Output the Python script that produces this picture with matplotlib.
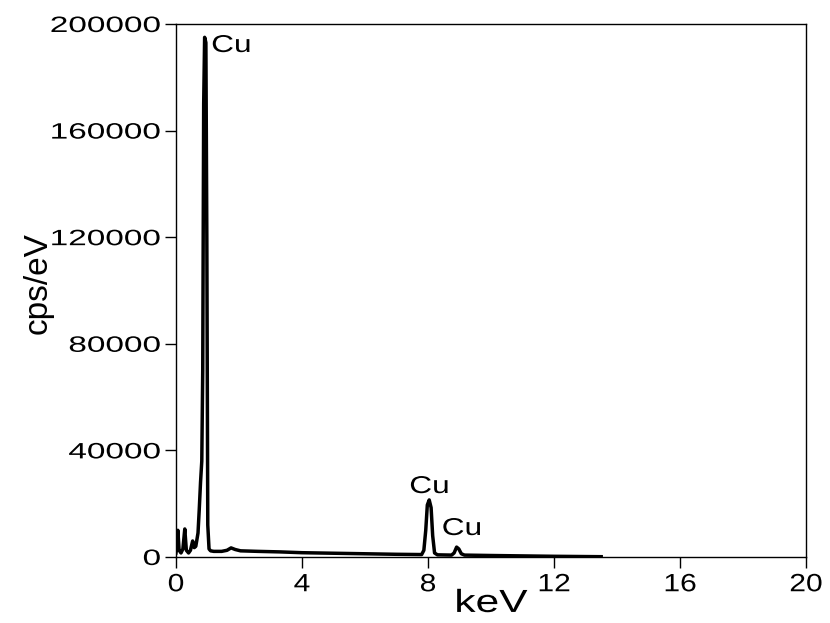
import matplotlib
import matplotlib.pyplot as plt
from matplotlib.patheffects import AbstractPathEffect
from matplotlib.transforms import Affine2D

matplotlib.use("Agg")
plt.rcParams["font.family"] = ["Liberation Sans", "DejaVu Sans"]

# EDS spectrum, counts per eV against energy
energy = [0.00, 0.02, 0.06, 0.10, 0.16, 0.22, 0.28, 0.33, 0.40, 0.46,
          0.53, 0.58, 0.63, 0.70, 0.74, 0.78, 0.82, 0.85, 0.88, 0.91,
          0.95, 0.98, 1.01, 1.05, 1.10, 1.20, 1.45, 1.62, 1.75, 1.88,
          2.05, 2.6, 3.3, 4.0, 5.0, 6.0, 7.0, 7.80, 7.87, 7.93,
          7.98, 8.04, 8.10, 8.15, 8.21, 8.30, 8.75, 8.83, 8.91, 8.98,
          9.06, 9.16, 10.0, 11.0, 12.0, 13.5]
cps = [1500, 3000, 10000, 2500, 1500, 3000, 10500, 2500, 1500, 2500,
       6000, 3500, 4000, 9000, 18000, 28000, 36000, 70000, 170000, 195000,
       193000, 120000, 12000, 3000, 2300, 2100, 2100, 2500, 3400, 2800,
       2300, 2100, 1900, 1600, 1400, 1200, 1000, 900, 2500, 10000,
       19500, 21400, 18500, 8000, 1500, 800, 700, 1500, 3700, 3000,
       1200, 700, 550, 400, 250, 100]

# line identifications
peak_names = ["Cu", "Cu", "Cu"]
peak_x = [1.75, 8.04, 9.07]
peak_y = [189500, 24000, 8250]

xticks = [0, 4, 8, 12, 16, 20]
yticks = [0, 40000, 80000, 120000, 160000, 200000]


class Widen(AbstractPathEffect):
    """Stretch glyph outlines sideways around a fixed point of the text."""

    def __init__(self, sx=1.3, anchor=0.5):
        super().__init__()
        self.sx = sx
        self.anchor = anchor

    def draw_path(self, renderer, gc, tpath, affine, rgbFace=None):
        v = tpath.vertices
        if len(v):
            x0, x1 = v[:, 0].min(), v[:, 0].max()
        else:
            x0 = x1 = 0.0
        px = x0 + self.anchor * (x1 - x0)
        wide = Affine2D().translate(-px, 0).scale(self.sx, 1).translate(px, 0)
        renderer.draw_path(gc, tpath, wide + affine, rgbFace)


fig = plt.figure(figsize=(8.3, 6.23), dpi=100)
ax = fig.add_axes([0.212, 0.106, 0.759, 0.8555])

ax.plot(energy, cps, color="black", lw=2.5, solid_joinstyle="round")

for name, x, y in zip(peak_names, peak_x, peak_y):
    ax.text(x, y, name, fontsize=17.5, ha="center", va="baseline",
            path_effects=[Widen(1.3, 0.5)])

ax.set_xlim(0, 20)
ax.set_ylim(0, 200000)
ax.set_xticks(xticks)
ax.set_yticks(yticks)
ax.set_xticklabels([str(t) for t in xticks])
ax.set_yticklabels([str(t) for t in yticks])

for s in ax.spines.values():
    s.set_linewidth(1.0)
ax.tick_params(direction="out", length=8, width=1.0, top=False, right=False)
ax.tick_params(axis="x", labelsize=18, pad=3)
ax.tick_params(axis="y", labelsize=16, pad=3)
for lab in ax.get_xticklabels():
    lab.set_path_effects([Widen(1.2, 0.5)])
for lab in ax.get_yticklabels():
    lab.set_path_effects([Widen(1.5, 1.0)])

ax.set_xlabel("keV", fontsize=23, path_effects=[Widen(1.33, 0.5)])
ax.xaxis.set_label_coords(0.5, -0.06)
ax.set_ylabel("cps/eV", fontsize=24)
ax.yaxis.set_label_coords(-0.194, 0.514)

fig.savefig("out.png", dpi=100)
